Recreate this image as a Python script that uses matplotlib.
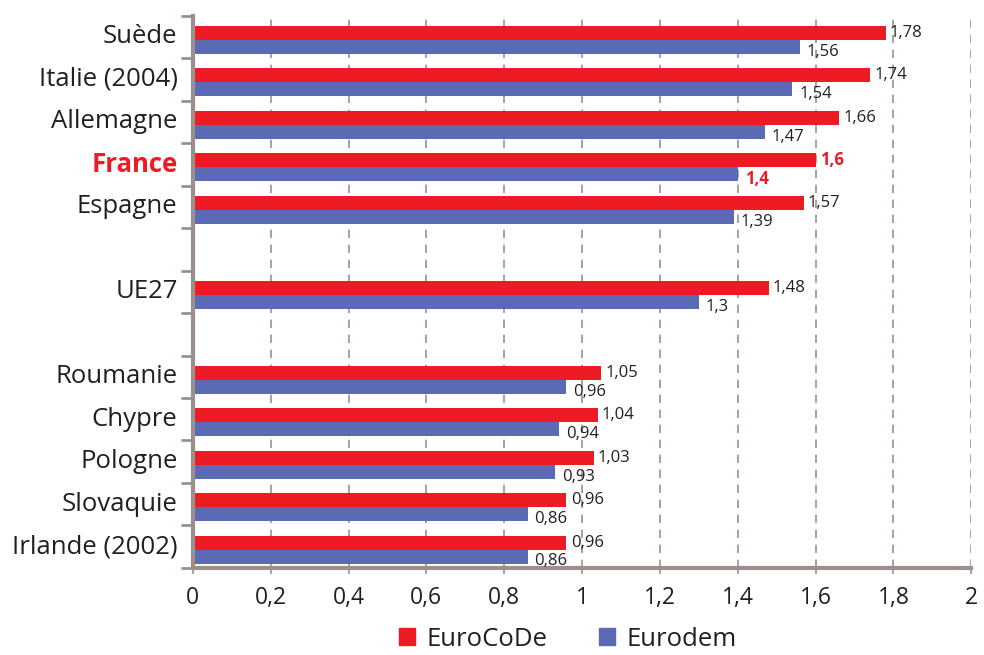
import numpy as np
import matplotlib.pyplot as plt
from matplotlib.patches import Patch

# data, top to bottom, in three groups separated by a blank slot
groups = [
    ["Suède", "Italie (2004)", "Allemagne", "France", "Espagne"],
    ["UE27"],
    ["Roumanie", "Chypre", "Pologne", "Slovaquie", "Irlande (2002)"],
]
eurocode = [1.78, 1.74, 1.66, 1.6, 1.57, 1.48, 1.05, 1.04, 1.03, 0.96, 0.96]
eurodem = [1.56, 1.54, 1.47, 1.4, 1.39, 1.3, 0.96, 0.94, 0.93, 0.86, 0.86]
highlight = "France"
xticks = [0, 0.2, 0.4, 0.6, 0.8, 1, 1.2, 1.4, 1.6, 1.8, 2]

RED = "#ED1C24"
BLUE = "#5B6BB3"
GREY = "#9C908D"
TEXT = "#231F20"

plt.rcParams['font.family'] = ['Open Sans', 'DejaVu Sans']


def fmt(v):
    return f"{v:g}".replace(".", ",")


# slot positions (one empty slot between groups), counted from the top
labels, slots = [], []
s = 0
for gi, g in enumerate(groups):
    for name in g:
        labels.append(name)
        slots.append(s)
        s += 1
    if gi < len(groups) - 1:
        s += 1
n_slots = s
y = n_slots - 1 - np.array(slots) + 0.5  # slot centres, bottom slot at 0.5

fig = plt.figure(figsize=(9.84, 6.55), dpi=100)
ax = fig.add_axes([0.196, 0.133, 0.791, 0.843])

h = 0.33
off = -0.07
ax.barh(y + off + h / 2, eurocode, height=h, color=RED, zorder=2)
ax.barh(y + off - h / 2, eurodem, height=h, color=BLUE, zorder=2)

for yi, name, a, b in zip(y, labels, eurocode, eurodem):
    bold = name == highlight
    col = RED if bold else TEXT
    fw = "bold" if bold else "normal"
    ax.annotate(fmt(a), (a, yi + off + h / 2), xytext=(3, 0), textcoords="offset points",
                va="center", ha="left", fontsize=12, color=col, fontweight=fw)
    ax.annotate(fmt(b), (b, yi + off - h / 2), xytext=(5, -3.5), textcoords="offset points",
                va="center", ha="left", fontsize=12, color=col, fontweight=fw)

ax.set_xlim(0, 2)
ax.set_ylim(0, n_slots)

ax.set_xticks(xticks)
ax.set_xticklabels([fmt(v) for v in xticks], fontsize=16.5, color=TEXT)
ax.tick_params(axis="x", length=4, width=1.2, color=GREY, pad=9)

# y ticks on slot boundaries, labels at slot centres
ax.set_yticks(np.arange(0, n_slots + 1))
ax.set_yticklabels([])
ax.tick_params(axis="y", length=9, width=2, color=GREY)
for yi, name in zip(y, labels):
    bold = name == highlight
    ax.annotate(name, (0, yi), xytext=(-11, 0), textcoords="offset points",
                xycoords=ax.get_yaxis_transform(), ha="right", va="center",
                fontsize=18.5, color=RED if bold else TEXT,
                fontweight="bold" if bold else "normal")

for v in xticks[1:]:
    ax.axvline(v, color=GREY, lw=1.2, ls=(0, (5, 4)), zorder=1)

for side in ("top", "right"):
    ax.spines[side].set_visible(False)
ax.spines["left"].set_color(GREY)
ax.spines["left"].set_linewidth(3)
ax.spines["bottom"].set_color(GREY)
ax.spines["bottom"].set_linewidth(3)

handles = [Patch(color=RED, label="EuroCoDe"), Patch(color=BLUE, label="Eurodem")]
fig.legend(handles=handles, loc="center", bbox_to_anchor=(0.577, 0.024), ncol=2,
           frameon=False, fontsize=18.5, handlelength=0.62, handleheight=0.62,
           columnspacing=2, handletextpad=0.45, labelcolor=TEXT,
           borderpad=0, borderaxespad=0)

fig.savefig("out.png", dpi=100)
